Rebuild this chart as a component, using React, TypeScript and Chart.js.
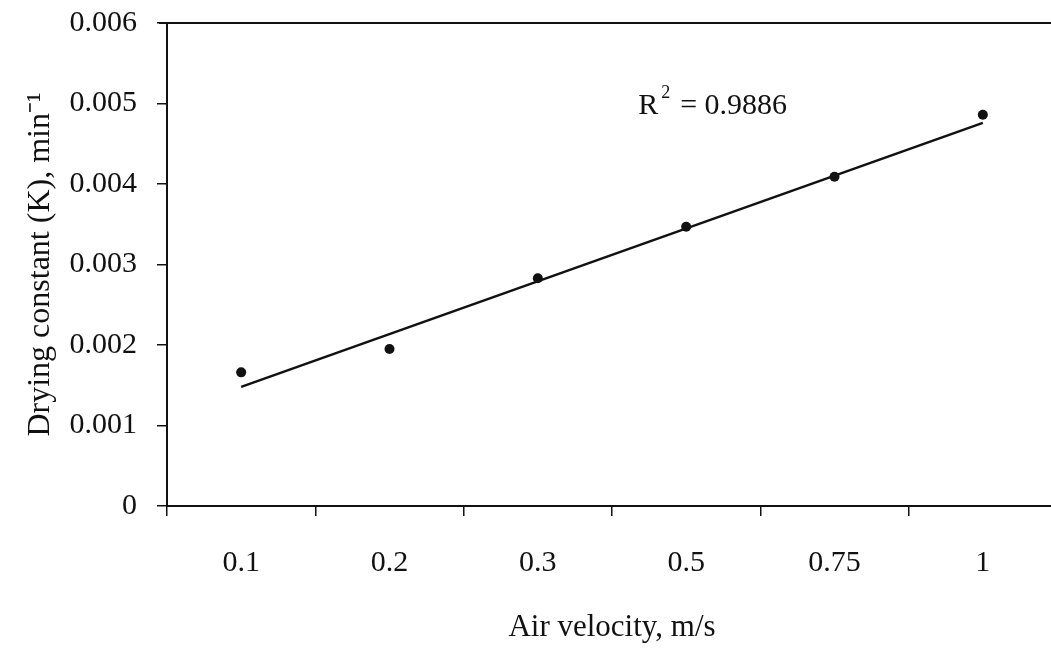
import React, { useEffect, useRef } from 'react';
import { Chart, registerables } from 'chart.js';

Chart.register(...registerables);

const categories = ['0.1', '0.2', '0.3', '0.5', '0.75', '1'];
const dryingConstant = [0.00166, 0.00195, 0.00283, 0.00347, 0.00409, 0.00486];
const trendLine = [0.00148, null, null, null, null, 0.00476];
const yTickLabels = ['0', '0.001', '0.002', '0.003', '0.004', '0.005', '0.006'];
const rSquaredValue = '0.9886';
const xTitle = 'Air velocity, m/s';
const yTitle = 'Drying constant (K), min⁻¹';

const FONT = '"Liberation Serif", "Times New Roman", serif';
const INK = '#111';

export default function App() {
  const ref = useRef<HTMLCanvasElement>(null);

  useEffect(() => {
    if (!ref.current) return;
    const annot = {
      id: 'annot',
      afterDraw(chart: any) {
        const { ctx, chartArea, scales } = chart;
        ctx.save();
        ctx.strokeStyle = INK;
        ctx.lineWidth = 2;
        ctx.beginPath();
        ctx.moveTo(chartArea.left - 8, chartArea.top);
        ctx.lineTo(chartArea.right, chartArea.top);
        ctx.stroke();

        const x0 = scales.x.getPixelForValue(3) - 48;
        const yb = scales.y.getPixelForValue(0.00487);
        ctx.fillStyle = INK;
        ctx.textBaseline = 'alphabetic';
        ctx.textAlign = 'left';
        ctx.font = `30px ${FONT}`;
        ctx.fillText('R', x0, yb);
        const rw = ctx.measureText('R').width;
        ctx.font = `18px ${FONT}`;
        ctx.fillText('2', x0 + rw + 3, yb - 16);
        ctx.font = `30px ${FONT}`;
        ctx.fillText('= ' + rSquaredValue, x0 + rw + 22, yb);
        ctx.restore();
      },
    };

    const chart = new Chart(ref.current, {
      type: 'line',
      data: {
        labels: categories,
        datasets: [
          {
            label: 'Trend',
            data: trendLine,
            borderColor: INK,
            borderWidth: 2.5,
            pointRadius: 0,
            spanGaps: true,
            fill: false,
          },
          {
            label: 'Drying constant',
            data: dryingConstant,
            showLine: false,
            pointStyle: 'circle',
            pointRadius: 5,
            pointBackgroundColor: INK,
            pointBorderWidth: 0,
            borderColor: INK,
          },
        ],
      },
      options: {
        responsive: false,
        devicePixelRatio: 1,
        animation: false,
        layout: { padding: { top: 23, right: 2, bottom: 0, left: 0 } },
        plugins: { legend: { display: false }, tooltip: { enabled: false } },
        scales: {
          x: {
            type: 'category',
            offset: true,
            grid: {
              display: true,
              offset: true,
              drawOnChartArea: false,
              drawTicks: true,
              tickLength: 10,
              color: INK,
              lineWidth: 1.5,
            },
            border: { display: true, color: INK, width: 2 },
            ticks: {
              color: INK,
              font: { family: FONT, size: 30 },
              padding: 29,
              maxRotation: 0,
              autoSkip: false,
            },
            title: {
              display: true,
              text: xTitle,
              color: INK,
              font: { family: FONT, size: 31 },
              padding: { top: 0, bottom: 3 },
            },
            afterFit: (s: any) => {
              s.height = 143;
              s.paddingLeft = 0;
              s.paddingRight = 0;
            },
          },
          y: {
            min: 0,
            max: 0.006,
            grid: {
              display: true,
              drawOnChartArea: false,
              drawTicks: true,
              tickLength: 10,
              color: INK,
              lineWidth: 1.5,
            },
            border: { display: true, color: INK, width: 2 },
            ticks: {
              stepSize: 0.001,
              color: INK,
              font: { family: FONT, size: 30 },
              padding: 20,
              callback: (v: any) => yTickLabels[Math.round(Number(v) / 0.001)],
            },
            title: {
              display: true,
              text: yTitle,
              color: INK,
              font: { family: FONT, size: 32 },
              padding: { top: 21, bottom: 0 },
            },
            afterFit: (s: any) => {
              s.width = 167;
              s.paddingTop = 0;
              s.paddingBottom = 0;
            },
          },
        },
      },
      plugins: [annot],
    });
    return () => chart.destroy();
  }, []);

  return (
    <div
      style={{
        position: 'fixed',
        left: 0,
        top: 0,
        width: 1051,
        height: 649,
        overflow: 'hidden',
        background: '#fff',
      }}
    >
      <canvas ref={ref} width={1062} height={649} style={{ display: 'block', width: 1062, height: 649 }} />
    </div>
  );
}
